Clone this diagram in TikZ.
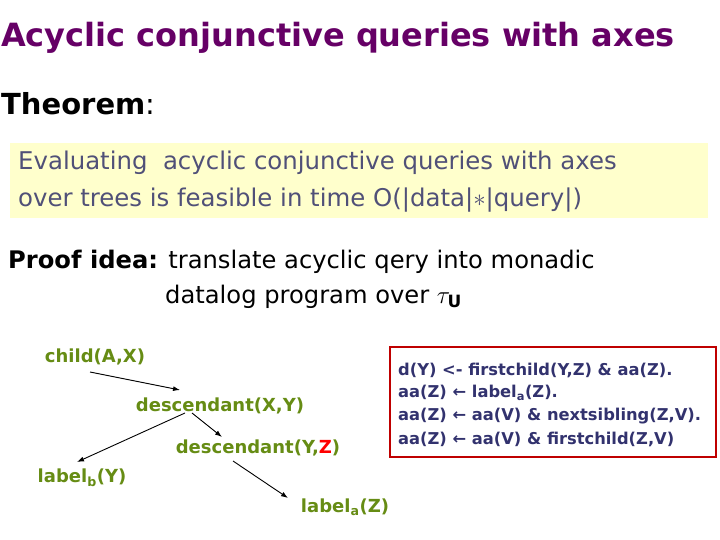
\documentclass[tikz,border=0pt]{standalone}
\usepackage{fontspec}
\setmainfont{DejaVu Sans}
\begin{document}
\begin{tikzpicture}[x=1pt,y=-1pt,
  tree/.style={text=treegreen,font=\fontsize{18}{20}\selectfont\bfseries,inner sep=1pt},
  arr/.style={-{Latex[length=7pt,width=5pt]},line width=0.9pt},
  rule/.style={anchor=west,text=ruleblue,font=\fontsize{16.3}{19}\selectfont\bfseries,inner sep=0pt}]
\usetikzlibrary{arrows.meta}
\definecolor{titlec}{RGB}{102,0,102}
\definecolor{treegreen}{RGB}{102,140,20}
\definecolor{ruleblue}{RGB}{50,50,110}
\definecolor{boxtext}{RGB}{80,80,120}
\definecolor{ybox}{RGB}{255,255,204}
\useasboundingbox (0,0) rectangle (720,540);
\node[anchor=west,text=titlec,font=\fontsize{32}{36}\selectfont\bfseries,inner sep=0pt] (title) at (1,38) {Acyclic conjunctive queries with axes};
\node[anchor=west,font=\fontsize{29}{32}\selectfont,inner sep=0pt] (thm) at (1,104) {\textbf{Theorem}:};
\fill[ybox] (10,143) rectangle (708,218);
\node[anchor=west,text=boxtext,font=\fontsize{24.4}{28}\selectfont,inner sep=0pt] (t1) at (18,163) {Evaluating\ \ acyclic conjunctive queries with axes};
\node[anchor=west,text=boxtext,font=\fontsize{24.4}{28}\selectfont,inner sep=0pt] (t2) at (18,200) {over trees is feasible in time O(|data|$*$|query|)};
\node[anchor=west,font=\fontsize{24.2}{28}\selectfont,inner sep=0pt] (p1) at (8,262) {\textbf{Proof idea:} translate acyclic qery into monadic};
\node[anchor=west,font=\fontsize{24.2}{28}\selectfont,inner sep=0pt] (p2) at (165,297) {datalog program over $\tau_{\mathbf{U}}$};
\node[tree] (c) at (95,357) {child(A,X)};
\node[tree] (dxy) at (220,406) {descendant(X,Y)};
\node[tree] (dyz) at (258,448) {descendant(Y,\textcolor{red}{Z})};
\node[tree] (lb) at (82,478) {label\textsubscript{b}(Y)};
\node[tree] (la) at (345,507) {label\textsubscript{a}(Z)};
\coordinate (a1) at (90,372); \coordinate (a2) at (180,390);
\coordinate (b1) at (185,413); \coordinate (b2) at (77,462);
\coordinate (c1) at (192,413); \coordinate (c2) at (222,437);
\coordinate (d1) at (233,461); \coordinate (d2) at (288,498);
\draw[arr] (a1) -- (a2);
\draw[arr] (b1) -- (b2);
\draw[arr] (c1) -- (c2);
\draw[arr] (d1) -- (d2);
\draw[red!75!black,line width=1.2pt] (390,347) rectangle (716,457);
\node[rule] (r1) at (398,370) {d(Y) <- firstchild(Y,Z) \& aa(Z).};
\node[rule] (r2) at (398,393) {aa(Z) ← label\textsubscript{a}(Z).};
\node[rule] (r3) at (398,416) {aa(Z) ← aa(V) \& nextsibling(Z,V).};
\node[rule] (r4) at (398,439) {aa(Z) ← aa(V) \& firstchild(Z,V)};
\end{tikzpicture}
\end{document}
